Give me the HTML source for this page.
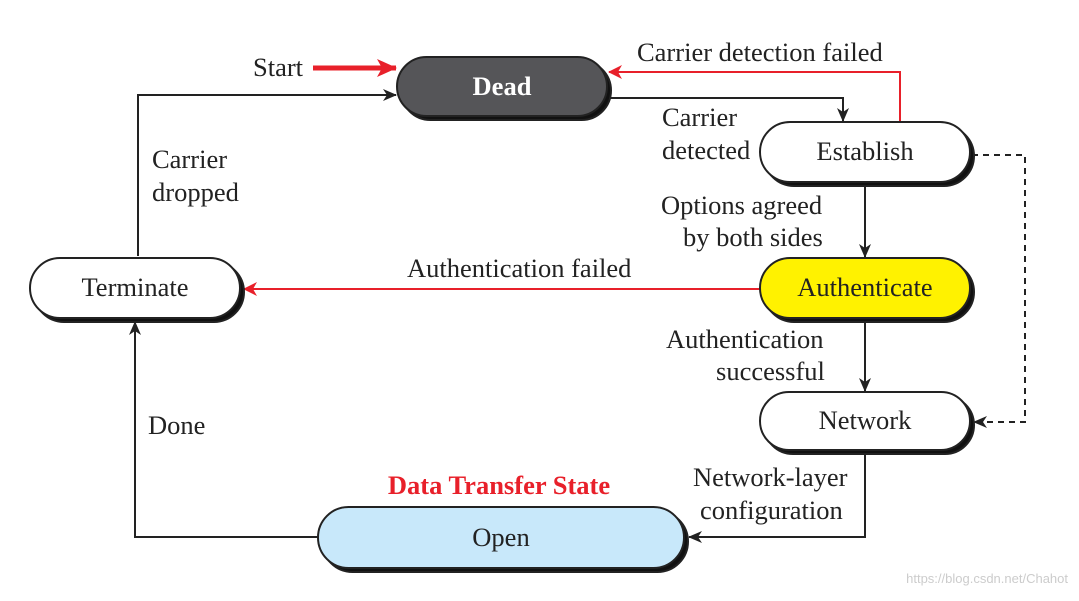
<!DOCTYPE html>
<html><head><style>
html,body{margin:0;padding:0;background:#fff;}
svg text{font-family:"Liberation Serif",serif;}
</style></head><body>
<svg width="1079" height="596" viewBox="0 0 1079 596" xmlns="http://www.w3.org/2000/svg">
<defs>
<marker id="ab" markerWidth="14" markerHeight="14" refX="13" refY="7" orient="auto" markerUnits="userSpaceOnUse"><path d="M0,1 L14,7 L0,13 L4,7 Z" fill="#222"/></marker>
<marker id="ar" markerWidth="14" markerHeight="14" refX="13" refY="7" orient="auto" markerUnits="userSpaceOnUse"><path d="M0,0 L14,7 L0,14 L4,7 Z" fill="#e8202a"/></marker>
<marker id="ar2" markerWidth="20" markerHeight="20" refX="19" refY="10" orient="auto" markerUnits="userSpaceOnUse"><path d="M0,1 L20,10 L0,19 L5,10 Z" fill="#e8202a"/></marker>
</defs>
<g fill="none" stroke-width="2">
<line x1="313" y1="68" x2="396" y2="68" stroke="#e8202a" stroke-width="5" marker-end="url(#ar2)"/>
<polyline points="138,256 138,95 396,95" stroke="#222" marker-end="url(#ab)"/>
<polyline points="607,98 843,98 843,121" stroke="#222" marker-end="url(#ab)"/>
<polyline points="900,122 900,72 609,72" stroke="#e8202a" marker-end="url(#ar)"/>
<line x1="865" y1="184" x2="865" y2="257" stroke="#222" marker-end="url(#ab)"/>
<polyline points="972,155 1025,155 1025,422 974,422" stroke="#222" stroke-dasharray="6,5" marker-end="url(#ab)"/>
<line x1="760" y1="289" x2="244" y2="289" stroke="#e8202a" marker-end="url(#ar)"/>
<line x1="865" y1="320" x2="865" y2="391" stroke="#222" marker-end="url(#ab)"/>
<polyline points="865,452 865,537 689,537" stroke="#222" marker-end="url(#ab)"/>
<polyline points="318,537 135,537 135,322" stroke="#222" marker-end="url(#ab)"/>
</g>
<g stroke="#222" stroke-width="2">
<rect x="401" y="61" width="210" height="59" rx="29.5" fill="#111"/>
<rect x="397" y="57" width="210" height="59" rx="29.5" fill="#555558"/>
<rect x="764" y="126" width="210" height="60" rx="30" fill="#111"/>
<rect x="760" y="122" width="210" height="60" rx="30" fill="#fff"/>
<rect x="764" y="262" width="210" height="60" rx="30" fill="#111"/>
<rect x="760" y="258" width="210" height="60" rx="30" fill="#fff200"/>
<rect x="764" y="396" width="210" height="58" rx="29" fill="#111"/>
<rect x="760" y="392" width="210" height="58" rx="29" fill="#fff"/>
<rect x="34" y="262" width="210" height="60" rx="30" fill="#111"/>
<rect x="30" y="258" width="210" height="60" rx="30" fill="#fff"/>
<rect x="322" y="511" width="366" height="61" rx="30.5" fill="#111"/>
<rect x="318" y="507" width="366" height="61" rx="30.5" fill="#c8e8fa"/>
</g>
<g font-size="26.5" fill="#222">
<text x="502" y="95" text-anchor="middle" fill="#fff" font-weight="bold">Dead</text>
<text x="865" y="160" text-anchor="middle">Establish</text>
<text x="865" y="296" text-anchor="middle">Authenticate</text>
<text x="865" y="429" text-anchor="middle">Network</text>
<text x="135" y="296" text-anchor="middle">Terminate</text>
<text x="501" y="546" text-anchor="middle">Open</text>
<text x="253" y="76">Start</text>
<text x="637" y="61">Carrier detection failed</text>
<text x="662" y="126">Carrier</text>
<text x="662" y="159">detected</text>
<text x="152" y="168">Carrier</text>
<text x="152" y="201">dropped</text>
<text x="661" y="214">Options agreed</text>
<text x="683" y="246">by both sides</text>
<text x="407" y="277">Authentication failed</text>
<text x="666" y="348">Authentication</text>
<text x="716" y="380">successful</text>
<text x="148" y="434">Done</text>
<text x="693" y="486">Network-layer</text>
<text x="700" y="519">configuration</text>
<text x="499" y="494" text-anchor="middle" fill="#e8202a" font-weight="bold">Data Transfer State</text>
</g>
<text x="1068" y="583" text-anchor="end" font-size="13" fill="#ccc" style="font-family:'Liberation Sans',sans-serif">https://blog.csdn.net/Chahot</text>
</svg>
</body></html>
